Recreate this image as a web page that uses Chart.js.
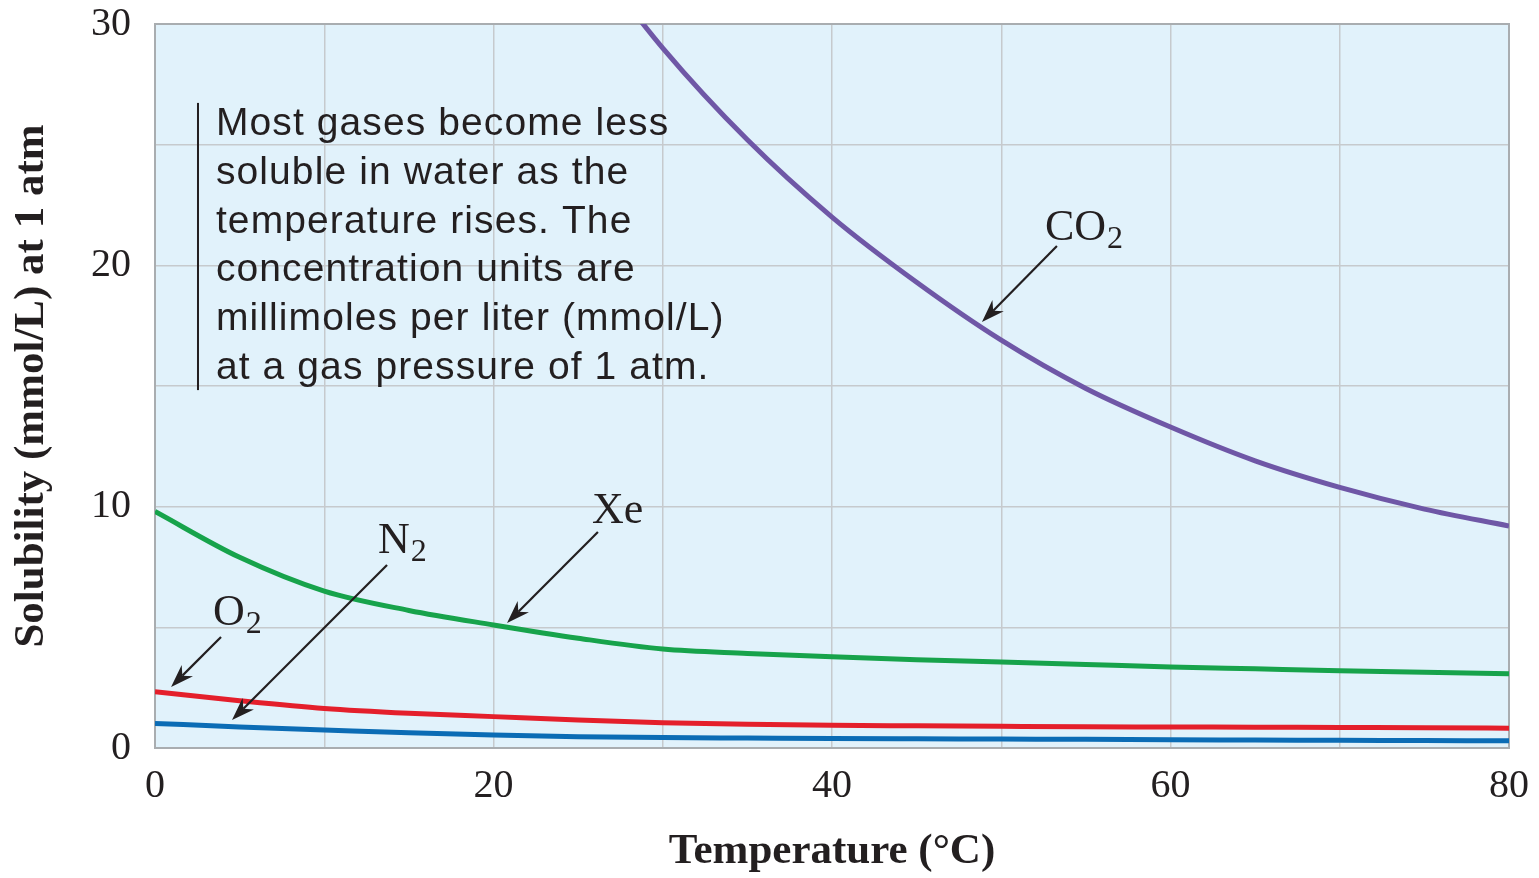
<!DOCTYPE html>
<html>
<head>
<meta charset="utf-8">
<script src="https://cdn.jsdelivr.net/npm/chart.js@4.4.1/dist/chart.umd.min.js"></script>
<style>
  html, body { margin: 0; padding: 0; background: #fff; }
  #wrap { width: 1539px; height: 878px; }
</style>
</head>
<body>
<div id="wrap"><canvas id="solubilityChart" width="1539" height="878"></canvas></div>
<script>
// ─── DATA ─────────────────────────────────────────────────
const temps = [0, 5, 10, 15, 20, 25, 30, 35, 40, 45, 50, 55, 60, 65, 70, 75, 80];
const co2 = [null, null, null, null, null, 33.5, 29.0, 25.2, 22.0, 19.3, 16.9, 14.9, 13.3, 11.9, 10.8, 9.9, 9.2];
const xe  = [9.8, 7.9, 6.5, 5.7, 5.1, 4.55, 4.1, 3.92, 3.78, 3.66, 3.56, 3.46, 3.36, 3.28, 3.2, 3.14, 3.08];
const o2  = [2.33, 1.96, 1.64, 1.44, 1.30, 1.16, 1.05, 0.98, 0.94, 0.92, 0.90, 0.88, 0.87, 0.86, 0.85, 0.84, 0.82];
const n2  = [1.02, 0.87, 0.75, 0.63, 0.54, 0.47, 0.43, 0.41, 0.39, 0.38, 0.37, 0.36, 0.34, 0.33, 0.32, 0.31, 0.30];

const xTickLabels = [0, 20, 40, 60, 80];
const yTickLabels = [0, 10, 20, 30];

const noteLines = [
  'Most gases become less',
  'soluble in water as the',
  'temperature rises. The',
  'concentration units are',
  'millimoles per liter (mmol/L)',
  'at a gas pressure of 1 atm.',
];

// ─── STYLE ────────────────────────────────────────────────
const C = {
  plotBg: '#e1f2fb',
  grid:   '#c6cacd',
  frame:  '#a9adb0',
  ink:    '#231f20',
  co2:    '#6f57a6',
  xe:     '#17a34b',
  o2:     '#e41f2b',
  n2:     '#0b6cb5',
};
const SERIF = '"Liberation Serif", "Times New Roman", serif';
const SANS  = '"Liberation Sans", Arial, sans-serif';

// gas labels + arrows, anchored in data units (x °C, y mmol/L)
const gasNotes = [
  { main: 'CO', sub: '2', at: [52.58, 21.05], from: [53.29, 20.80], to: [48.86, 17.65] },
  { main: 'Xe', sub: '',  at: [25.82, 9.32],  from: [26.17, 8.95],  to: [20.80, 5.18] },
  { main: 'N',  sub: '2', at: [13.18, 8.08],  from: [13.71, 7.58],  to: [4.55, 1.16] },
  { main: 'O',  sub: '2', at: [3.43, 5.10],   from: [3.90, 4.60],   to: [0.95, 2.53] },
];

const pts = arr => temps.map((t, i) => ({ x: t, y: arr[i] }));

function arrow(ctx, x1, y1, x2, y2) {
  const ang = Math.atan2(y2 - y1, x2 - x1);
  const len = 23, half = 8, notch = 16;
  const bx = x2 - Math.cos(ang) * notch, by = y2 - Math.sin(ang) * notch;
  ctx.beginPath();
  ctx.moveTo(x1, y1);
  ctx.lineTo(bx, by);
  ctx.stroke();
  const cx = x2 - Math.cos(ang) * len, cy = y2 - Math.sin(ang) * len;
  ctx.beginPath();
  ctx.moveTo(x2, y2);
  ctx.lineTo(cx - Math.sin(ang) * half, cy + Math.cos(ang) * half);
  ctx.lineTo(bx, by);
  ctx.lineTo(cx + Math.sin(ang) * half, cy - Math.cos(ang) * half);
  ctx.closePath();
  ctx.fill();
}

// ─── PLOT DECORATION PLUGIN ───────────────────────────────
const plotDecor = {
  id: 'plotDecor',
  beforeDraw(chart) {
    const { ctx, chartArea: a } = chart;
    ctx.save();
    ctx.fillStyle = C.plotBg;
    ctx.fillRect(a.left, a.top, a.right - a.left, a.bottom - a.top);
    ctx.restore();
  },
  beforeDatasetsDraw(chart) {
    const { ctx, chartArea: a } = chart;
    ctx.save();
    ctx.strokeStyle = C.frame;
    ctx.lineWidth = 2;
    ctx.strokeRect(a.left, a.top, a.right - a.left, a.bottom - a.top);
    ctx.restore();
  },
  afterDatasetsDraw(chart) {
    const { ctx, scales: { x, y } } = chart;
    ctx.save();
    ctx.fillStyle = C.ink;
    ctx.strokeStyle = C.ink;

    // note text with its vertical rule
    const barX = x.getPixelForValue(2.54);
    ctx.fillRect(barX - 1, y.getPixelForValue(26.73), 2, y.getPixelForValue(14.83) - y.getPixelForValue(26.73));
    ctx.font = '39px ' + SANS;
    if ('letterSpacing' in ctx) ctx.letterSpacing = '1.1px';
    ctx.textBaseline = 'alphabetic';
    const tx = x.getPixelForValue(3.6), ty = y.getPixelForValue(25.4);
    noteLines.forEach((line, i) => ctx.fillText(line, tx, ty + i * 48.8));
    if ('letterSpacing' in ctx) ctx.letterSpacing = '0px';

    // gas labels and arrows
    ctx.lineWidth = 2.2;
    gasNotes.forEach(g => {
      const lx = x.getPixelForValue(g.at[0]), ly = y.getPixelForValue(g.at[1]);
      ctx.font = '44px ' + SERIF;
      ctx.fillText(g.main, lx, ly);
      if (g.sub) {
        const w = ctx.measureText(g.main).width;
        ctx.font = '32px ' + SERIF;
        ctx.fillText(g.sub, lx + w + 1, ly + 8);
      }
      arrow(ctx, x.getPixelForValue(g.from[0]), y.getPixelForValue(g.from[1]),
                 x.getPixelForValue(g.to[0]), y.getPixelForValue(g.to[1]));
    });
    ctx.restore();
  },
};

// ─── CHART ────────────────────────────────────────────────
function line(label, arr, color) {
  return {
    label,
    data: pts(arr),
    borderColor: color,
    borderWidth: 5,
    pointRadius: 0,
    fill: false,
    cubicInterpolationMode: 'monotone',
    clip: 0,
  };
}

new Chart(document.getElementById('solubilityChart'), {
  type: 'line',
  data: {
    datasets: [
      line('CO2', co2, C.co2),
      line('Xe', xe, C.xe),
      line('O2', o2, C.o2),
      line('N2', n2, C.n2),
    ],
  },
  options: {
    responsive: false,
    animation: false,
    layout: { padding: { top: 24, right: 30, bottom: 0, left: 0 } },
    plugins: { legend: { display: false }, tooltip: { enabled: false } },
    scales: {
      x: {
        type: 'linear',
        min: 0, max: 80,
        grid: { color: C.grid, lineWidth: 1.5, drawTicks: false },
        border: { display: true, color: C.frame, width: 2 },
        ticks: {
          stepSize: 10,
          autoSkip: false,
          maxRotation: 0,
          padding: 14,
          color: C.ink,
          font: { family: SERIF, size: 40 },
          callback: v => xTickLabels.includes(v) ? String(v) : '',
        },
        title: {
          display: true,
          text: 'Temperature (°C)',
          color: C.ink,
          font: { family: SERIF, size: 43, weight: 'bold' },
          padding: { top: 0, bottom: 0 },
        },
        afterFit: s => { s.height = 130; s.paddingLeft = 0; s.paddingRight = 0; },
      },
      y: {
        min: 0, max: 30,
        grid: { color: C.grid, lineWidth: 1.5, drawTicks: false },
        border: { display: true, color: C.frame, width: 2 },
        ticks: {
          stepSize: 5,
          padding: 24,
          color: C.ink,
          font: { family: SERIF, size: 40 },
          callback: v => yTickLabels.includes(v) ? String(v) : '',
        },
        title: {
          display: true,
          text: 'Solubility (mmol/L) at 1 atm',
          color: C.ink,
          font: { family: SERIF, size: 43, weight: 'bold' },
          padding: { top: 6, bottom: 0 },
        },
        afterFit: s => { s.width = 155; s.paddingTop = 0; s.paddingBottom = 0; },
      },
    },
  },
  plugins: [plotDecor],
});
</script>
</body>
</html>
